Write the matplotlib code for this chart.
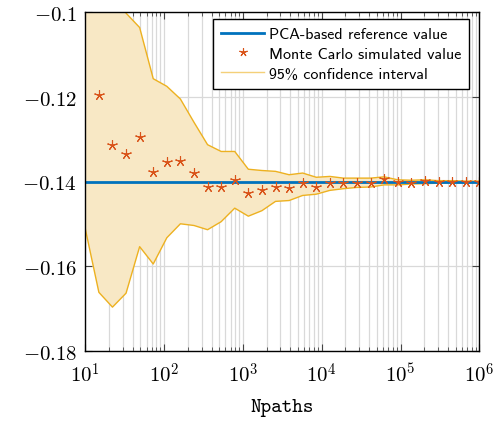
import numpy as np
import matplotlib.pyplot as plt
from matplotlib.lines import Line2D

plt.rcParams['mathtext.fontset'] = 'cm'

# Npaths values (log spaced from 10 to 1e6)
npaths = [10, 14.87, 22.12, 32.90, 48.94, 72.79, 108.3, 161.0, 239.5, 356.2,
          529.8, 788.0, 1172, 1743, 2593, 3857, 5736, 8532, 12690, 18874,
          28072, 41753, 62102, 92367, 137382, 204336, 303920, 452035, 672336, 1000000]

mc_value = [-0.090, -0.1196, -0.1313, -0.1335, -0.1294, -0.1377, -0.1355, -0.1352, -0.1381, -0.1414,
            -0.1412, -0.1396, -0.1428, -0.1421, -0.1414, -0.1415, -0.1404, -0.1413, -0.1404, -0.1404,
            -0.1403, -0.1403, -0.1394, -0.1400, -0.1403, -0.1398, -0.1401, -0.1401, -0.1401, -0.1401]

ci_upper = [-0.029, -0.073, -0.0929, -0.1002, -0.1036, -0.1157, -0.1175, -0.1205, -0.1260, -0.1313,
            -0.1329, -0.1329, -0.1371, -0.1374, -0.1376, -0.1384, -0.1380, -0.1390, -0.1388, -0.1392,
            -0.1392, -0.1392, -0.1389, -0.1396, -0.1397, -0.1396, -0.1398, -0.1398, -0.1399, -0.1399]

ci_lower = [-0.1512, -0.1662, -0.1697, -0.1664, -0.1554, -0.1595, -0.1533, -0.1500, -0.1504, -0.1514,
            -0.1495, -0.1463, -0.1482, -0.1469, -0.1447, -0.1445, -0.1433, -0.1430, -0.1421, -0.1417,
            -0.1414, -0.1413, -0.1408, -0.1408, -0.1406, -0.1405, -0.1404, -0.1403, -0.1403, -0.1402]

ref_value = -0.14

yticks = [-0.18, -0.16, -0.14, -0.12, -0.1]
ytick_labels = [r'$-\mathsf{0.18}$', r'$-\mathsf{0.16}$', r'$-\mathsf{0.14}$', r'$-\mathsf{0.12}$', r'$-\mathsf{0.1}$']
xticks = [1e1, 1e2, 1e3, 1e4, 1e5, 1e6]
xtick_labels = [r'$\mathsf{10}^{\mathsf{%d}}$' % i for i in range(1, 7)]

blue = '#0072BD'
orange = '#D95319'
yellow = '#EDB120'

fig = plt.figure(figsize=(5.03, 4.27), dpi=100)
ax = fig.add_axes([85.3/503, 1-351.7/427, 394/503, 338.4/427])

ax.fill_between(npaths, ci_lower, ci_upper, color='#F8E8C5', lw=0, zorder=1)
ax.plot(npaths, ci_upper, color=yellow, lw=1.0, zorder=2)
ax.plot(npaths, ci_lower, color=yellow, lw=1.0, zorder=2)
ax.plot([npaths[0], npaths[-1]], [ref_value, ref_value], color=blue, lw=2.0, zorder=3)
ax.plot(npaths, mc_value, ls='none', marker=(5, 2, 0), ms=7.5, mew=0.8, color=orange, zorder=4)

ax.set_xscale('log')
ax.set_xlim(10, 1e6)
ax.set_ylim(-0.18, -0.1)
ax.set_yticks(yticks)
ax.set_yticklabels(ytick_labels)
ax.set_xticks(xticks)
ax.set_xticklabels(xtick_labels)

ax.grid(True, which='major', color='#d9d9d9', lw=0.9)
ax.grid(True, which='minor', axis='x', color='#d9d9d9', lw=0.9)
ax.set_axisbelow(True)
ax.tick_params(which='both', direction='in', top=True, right=True, labelsize=15, color='#444444')
ax.tick_params(which='major', length=5, width=0.8)
ax.tick_params(which='minor', length=3, width=0.6)
ax.tick_params(axis='x', pad=8)
ax.tick_params(axis='y', pad=6)
for s in ax.spines.values():
    s.set_linewidth(1.0)
    s.set_zorder(5)

ax.set_xlabel('Npaths', family='cmtt10', fontsize=14.5, labelpad=9)

handles = [Line2D([], [], color=blue, lw=2.0),
           Line2D([], [], ls='none', marker=(5, 2, 0), ms=6, mew=0.8, color=orange),
           Line2D([], [], color=yellow, lw=1.0, alpha=0.6)]
labels = ['PCA-based reference value', 'Monte Carlo simulated value', '95% confidence interval']
leg = ax.legend(handles, labels, loc='upper right', bbox_to_anchor=(0.975, 0.98), borderaxespad=0,
                fancybox=False, edgecolor='black', framealpha=1, handlelength=2.7,
                prop={'family': 'cmss10', 'size': 11.5},
                borderpad=0.5, labelspacing=0.35, handletextpad=0.3)
leg.get_frame().set_linewidth(1.0)

fig.savefig('out.png', dpi=100)
